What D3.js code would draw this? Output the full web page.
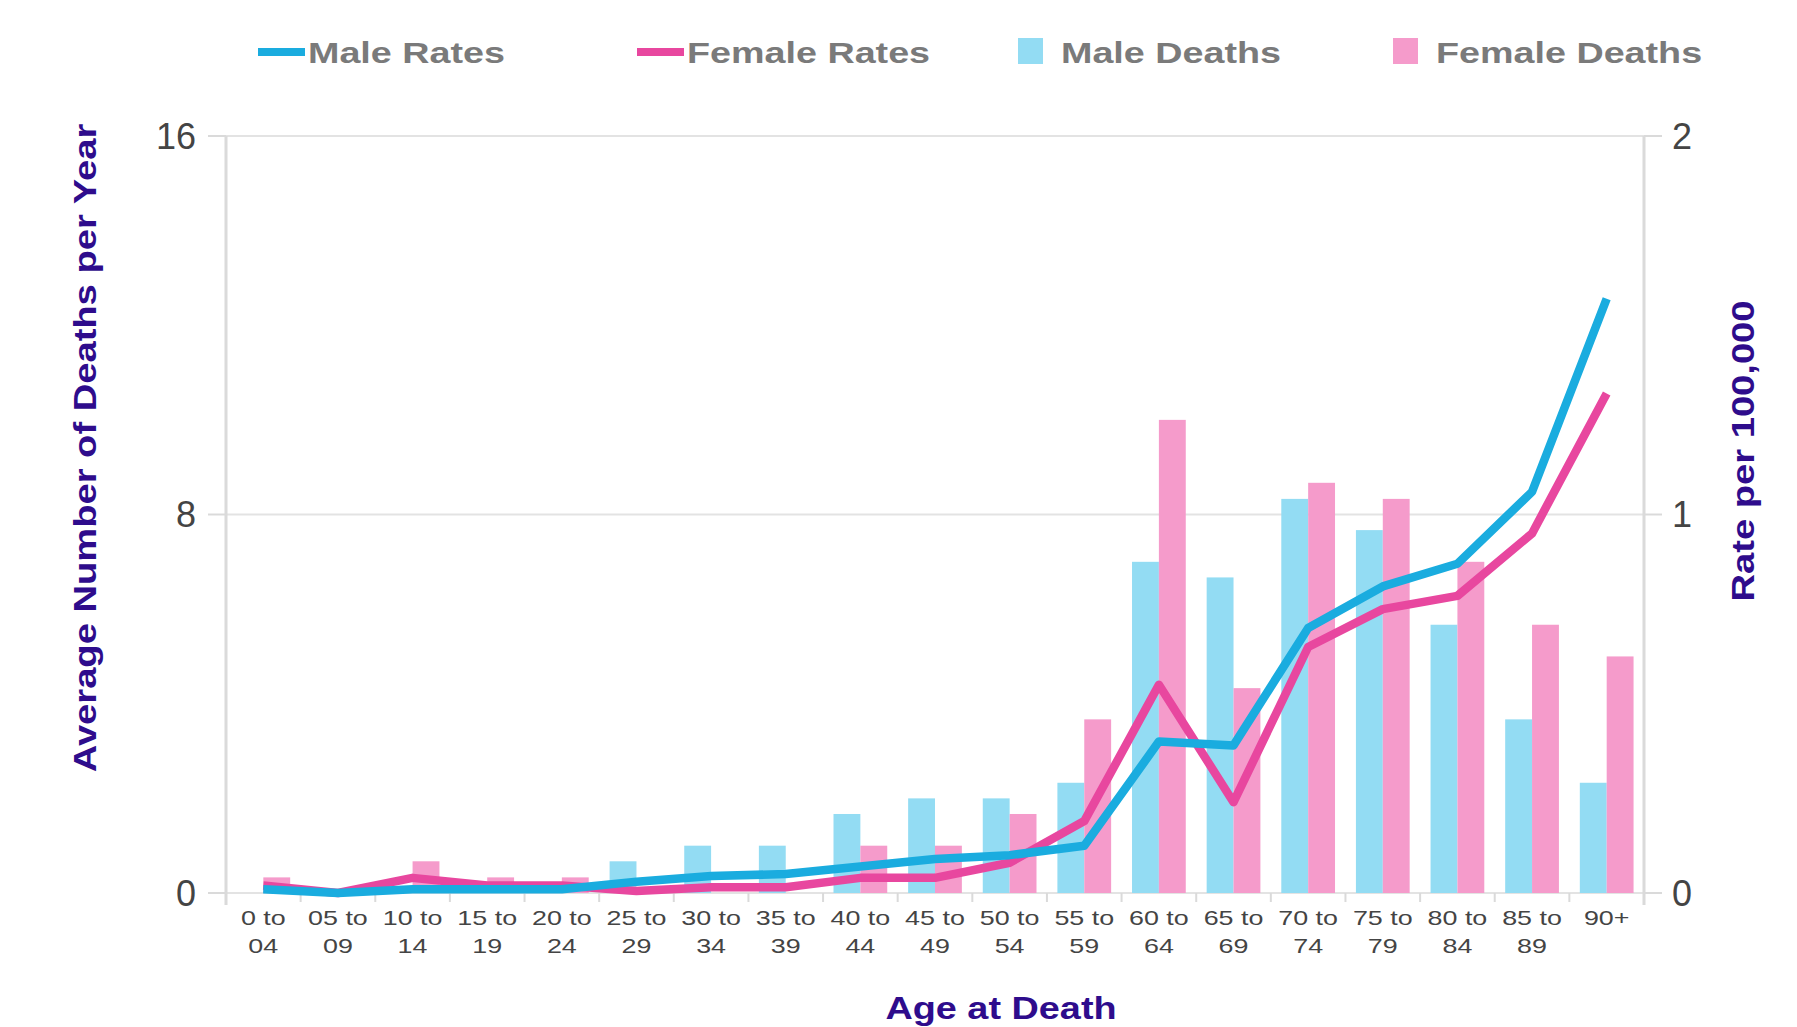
<!DOCTYPE html>
<html>
<head>
<meta charset="utf-8">
<script src="https://cdn.jsdelivr.net/npm/d3@7"></script>
<style>
  html, body { margin: 0; padding: 0; background: #fff; }
  svg { display: block; }
</style>
</head>
<body>
<svg id="chart" width="1797" height="1027"></svg>
<script>
// ---- data ----
const categories = ["0 to 04","05 to 09","10 to 14","15 to 19","20 to 24","25 to 29","30 to 34","35 to 39","40 to 44","45 to 49","50 to 54","55 to 59","60 to 64","65 to 69","70 to 74","75 to 79","80 to 84","85 to 89","90+"];
const maleDeaths   = [0, 0, 0, 0, 0, 0.67, 1.0, 1.0, 1.67, 2.0, 2.0, 2.33, 7.0, 6.67, 8.33, 7.67, 5.67, 3.67, 2.33];
const femaleDeaths = [0.33, 0, 0.67, 0.33, 0.33, 0, 0, 0, 1.0, 1.0, 1.67, 3.67, 10.0, 4.33, 8.67, 8.33, 7.0, 5.67, 5.0];
const maleRates    = [0.01, 0.0, 0.01, 0.01, 0.01, 0.03, 0.045, 0.05, 0.07, 0.09, 0.10, 0.125, 0.40, 0.39, 0.70, 0.81, 0.87, 1.06, 1.57];
const femaleRates  = [0.02, 0.0, 0.04, 0.02, 0.02, 0.005, 0.015, 0.015, 0.04, 0.04, 0.08, 0.19, 0.55, 0.24, 0.65, 0.75, 0.785, 0.95, 1.32];
const leftTicks  = [0, 8, 16];
const rightTicks = [0, 1, 2];
const legendItems = [
  {label: "Male Rates", type: "line", key: "maleLine"},
  {label: "Female Rates", type: "line", key: "femaleLine"},
  {label: "Male Deaths", type: "rect", key: "maleBar"},
  {label: "Female Deaths", type: "rect", key: "femaleBar"}
];

// ---- styles ----
const colors = {
  maleLine: "#1aacdf", femaleLine: "#e8479f",
  maleBar: "#93dcf3", femaleBar: "#f59bcb",
  grid: "#e3e3e3", axis: "#dadada", tickText: "#444", title: "#2e0c8c", legendText: "#7a7a7a"
};
const L = 226, R = 1644, T = 136, B = 893;

const svg = d3.select("#chart");

// horizontal stretch helper (text in reference is wide)
function stretch(sel, k) {
  sel.each(function() {
    const len = this.getComputedTextLength();
    d3.select(this).attr("textLength", len * k).attr("lengthAdjust", "spacingAndGlyphs");
  });
}

const x = d3.scaleBand().domain(categories).range([L, R]).padding(0);
const yL = d3.scaleLinear().domain([0, 16]).range([B, T]);
const yR = d3.scaleLinear().domain([0, 2]).range([B, T]);

const bw = x.bandwidth() * 0.36;

// gridlines
svg.append("g").selectAll("line").data(leftTicks).join("line")
  .attr("x1", L).attr("x2", R)
  .attr("y1", d => yL(d)).attr("y2", d => yL(d))
  .attr("stroke", colors.grid).attr("stroke-width", 2);

// vertical axis lines
svg.append("line").attr("x1", L).attr("x2", L).attr("y1", T).attr("y2", B + 12)
  .attr("stroke", colors.axis).attr("stroke-width", 3);
svg.append("line").attr("x1", R).attr("x2", R).attr("y1", T).attr("y2", B + 12)
  .attr("stroke", colors.axis).attr("stroke-width", 3);

// left ticks + labels
const gl = svg.append("g");
gl.selectAll("line").data(leftTicks).join("line")
  .attr("x1", L - 18).attr("x2", L).attr("y1", d => yL(d)).attr("y2", d => yL(d))
  .attr("stroke", colors.axis).attr("stroke-width", 2);
gl.selectAll("text").data(leftTicks).join("text")
  .attr("x", L - 30).attr("y", d => yL(d)).attr("dy", "0.36em")
  .attr("text-anchor", "end")
  .attr("font-family", "Liberation Sans, Arial, sans-serif").attr("font-size", 36)
  .attr("fill", colors.tickText).text(d => d);

// right ticks + labels
const gr = svg.append("g");
gr.selectAll("line").data(rightTicks).join("line")
  .attr("x1", R).attr("x2", R + 18).attr("y1", d => yR(d)).attr("y2", d => yR(d))
  .attr("stroke", colors.axis).attr("stroke-width", 2);
gr.selectAll("text").data(rightTicks).join("text")
  .attr("x", R + 28).attr("y", d => yR(d)).attr("dy", "0.36em")
  .attr("text-anchor", "start")
  .attr("font-family", "Liberation Sans, Arial, sans-serif").attr("font-size", 36)
  .attr("fill", colors.tickText).text(d => d);

// x ticks at band boundaries
const bounds = categories.map(c => x(c)).concat([R]);
svg.append("g").selectAll("line").data(bounds).join("line")
  .attr("x1", d => d).attr("x2", d => d).attr("y1", B).attr("y2", B + 9)
  .attr("stroke", colors.axis).attr("stroke-width", 2);

// bars
svg.append("g").selectAll("rect").data(categories).join("rect")
  .attr("x", d => x(d) + x.bandwidth() / 2 - bw)
  .attr("y", (d, i) => yL(maleDeaths[i]))
  .attr("width", bw)
  .attr("height", (d, i) => B - yL(maleDeaths[i]))
  .attr("fill", colors.maleBar);
svg.append("g").selectAll("rect").data(categories).join("rect")
  .attr("x", d => x(d) + x.bandwidth() / 2)
  .attr("y", (d, i) => yL(femaleDeaths[i]))
  .attr("width", bw)
  .attr("height", (d, i) => B - yL(femaleDeaths[i]))
  .attr("fill", colors.femaleBar);

// lines
const lineGen = vals => d3.line()
  .x((d, i) => x(categories[i]) + x.bandwidth() / 2)
  .y(d => yR(d))(vals);
svg.append("path").attr("d", lineGen(femaleRates))
  .attr("fill", "none").attr("stroke", colors.femaleLine).attr("stroke-width", 8.5)
  .attr("stroke-linejoin", "round");
svg.append("path").attr("d", lineGen(maleRates))
  .attr("fill", "none").attr("stroke", colors.maleLine).attr("stroke-width", 8.5)
  .attr("stroke-linejoin", "round");

// x tick labels (two lines)
const xl = svg.append("g").selectAll("text").data(categories).join("text")
  .attr("text-anchor", "middle")
  .attr("font-family", "Liberation Sans, Arial, sans-serif").attr("font-size", 21)
  .attr("fill", colors.tickText);
xl.each(function(d) {
  const parts = d.indexOf(" to ") >= 0 ? [d.slice(0, d.indexOf(" to ") + 3), d.slice(d.indexOf(" to ") + 4)] : [d];
  const cx = x(d) + x.bandwidth() / 2;
  const t = d3.select(this);
  parts.forEach((p, j) => {
    t.append("tspan").attr("x", cx).attr("y", 925 + j * 28).text(p);
  });
});
xl.attr("transform", function(d) {
  const cx = x(d) + x.bandwidth() / 2;
  return `translate(${cx},0) scale(1.28,1) translate(${-cx},0)`;
});

// axis titles
const titleFont = "Liberation Sans, Arial, sans-serif";
svg.append("text").attr("transform", "translate(96,448) rotate(-90)")
  .attr("text-anchor", "middle").attr("font-family", titleFont)
  .attr("font-weight", "bold").attr("font-size", 31).attr("fill", colors.title)
  .text("Average Number of Deaths per Year").call(stretch, 1.23);
svg.append("text").attr("transform", "translate(1754,451) rotate(-90)")
  .attr("text-anchor", "middle").attr("font-family", titleFont)
  .attr("font-weight", "bold").attr("font-size", 31).attr("fill", colors.title)
  .text("Rate per 100,000").call(stretch, 1.23);
svg.append("text").attr("x", 1001).attr("y", 1019)
  .attr("text-anchor", "middle").attr("font-family", titleFont)
  .attr("font-weight", "bold").attr("font-size", 31).attr("fill", colors.title)
  .text("Age at Death").call(stretch, 1.22);

// legend
const legendX = [258, 637, 1018, 1393];
const lg = svg.append("g").selectAll("g").data(legendItems).join("g")
  .attr("transform", (d, i) => `translate(${legendX[i]},0)`);
lg.each(function(d) {
  const g = d3.select(this);
  let tx;
  if (d.type === "line") {
    g.append("rect").attr("x", 0).attr("y", 48).attr("width", 47).attr("height", 8)
      .attr("fill", colors[d.key]);
    tx = 50;
  } else {
    g.append("rect").attr("x", 0).attr("y", 38).attr("width", 25).attr("height", 26)
      .attr("fill", colors[d.key]);
    tx = 43;
  }
  g.append("text").attr("x", tx).attr("y", 63)
    .attr("font-family", titleFont).attr("font-weight", "bold").attr("font-size", 29)
    .attr("fill", colors.legendText).text(d.label).call(stretch, 1.3);
});
</script>
</body>
</html>
